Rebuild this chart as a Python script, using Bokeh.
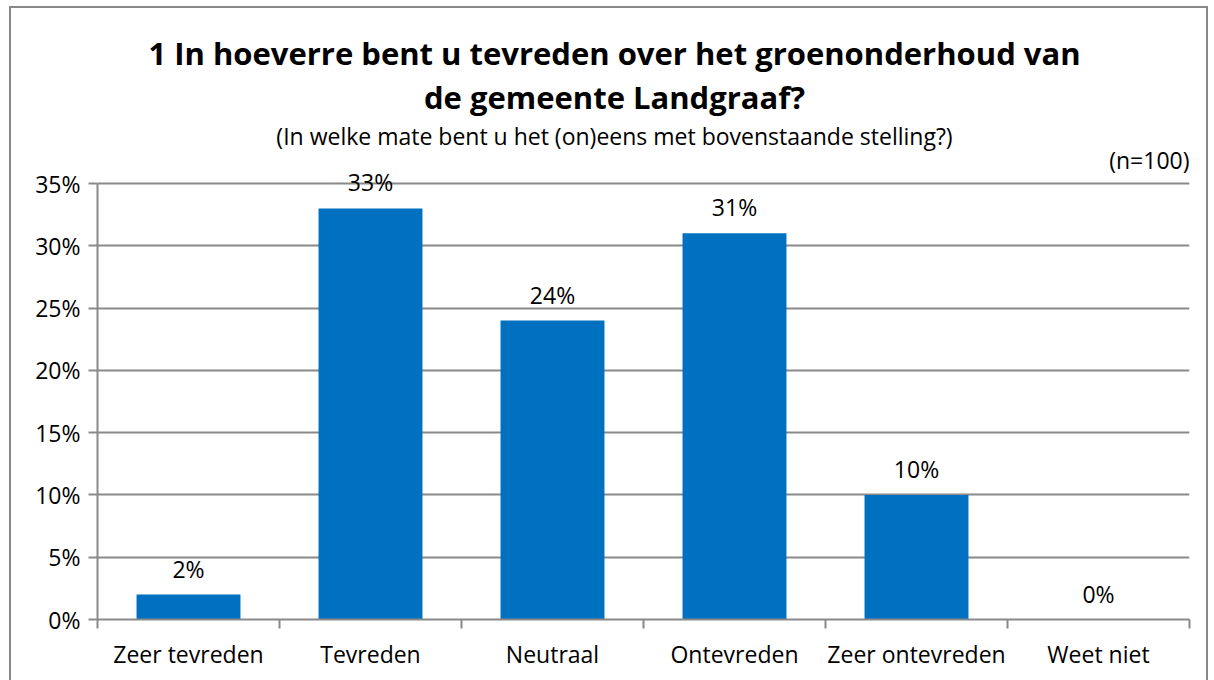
from bokeh.plotting import figure
from bokeh.models import (ColumnDataSource, FixedTicker, PrintfTickFormatter,
                          Range1d, LabelSet, Label)
from bokeh.core.properties import value
from bokeh.embed import file_html
from bokeh.resources import INLINE

categories = ["Zeer tevreden", "Tevreden", "Neutraal", "Ontevreden",
              "Zeer ontevreden", "Weet niet"]
values = [2, 33, 24, 31, 10, 0]
value_labels = ["2%", "33%", "24%", "31%", "10%", "0%"]
y_ticks = [0, 5, 10, 15, 20, 25, 30, 35]
title_line1 = "1 In hoeverre bent u tevreden over het groenonderhoud van"
title_line2 = "de gemeente Landgraaf?"
subtitle = "(In welke mate bent u het (on)eens met bovenstaande stelling?)"
n_note = "(n=100)"

FONT = "Open Sans"
GREY = "#898989"
BLUE = "#0070C0"
TXT = "23px"

xs = [i + 0.5 for i in range(len(categories))]
src = ColumnDataSource(dict(x=xs, top=values, lab=value_labels))

# frame: canvas x 97..1189, y 8..619 ; 35% gridline at canvas y 183
y_max = y_ticks[-1]
y_top = y_max * (619 - 8) / (619 - 183)

p = figure(width=1199, height=680, output_backend="svg", toolbar_location=None,
           x_range=Range1d(0, len(categories)), y_range=Range1d(0, y_top),
           min_border_left=86, min_border_right=21, min_border_top=0,
           min_border_bottom=69, outline_line_color=None)
p.styles = {"margin-left": "9px", "margin-top": "6px",
            "border": f"2px solid {GREY}"}
p.background_fill_color = "white"
p.border_fill_color = "white"

p.vbar(x="x", top="top", width=0.571, bottom=0, source=src,
       fill_color=BLUE, line_color=None)

# axes
p.xaxis.ticker = FixedTicker(ticks=xs, minor_ticks=list(range(len(categories) + 1)))
p.xaxis.major_label_overrides = {x: c for x, c in zip(xs, categories)}
p.xaxis.major_tick_line_color = None
p.xaxis.minor_tick_out = 9
p.xaxis.minor_tick_in = 0
p.xaxis.minor_tick_line_color = GREY
p.xaxis.minor_tick_line_width = 2
p.xaxis.axis_line_color = GREY
p.xaxis.axis_line_width = 2
p.xaxis.major_label_text_font = FONT
p.xaxis.major_label_text_font_size = TXT
p.xaxis.major_label_text_color = "black"
p.xaxis.major_label_standoff = 9

p.yaxis.ticker = FixedTicker(ticks=y_ticks, minor_ticks=[])
p.yaxis.bounds = (0, y_max)
p.yaxis.formatter = PrintfTickFormatter(format="%d%%")
p.yaxis.major_tick_out = 9
p.yaxis.major_tick_in = 0
p.yaxis.major_tick_line_color = GREY
p.yaxis.major_tick_line_width = 2
p.yaxis.axis_line_color = GREY
p.yaxis.axis_line_width = 2
p.yaxis.major_label_text_font = FONT
p.yaxis.major_label_text_font_size = TXT
p.yaxis.major_label_text_color = "black"
p.yaxis.major_label_standoff = 8

p.xgrid.grid_line_color = None
p.ygrid.ticker = FixedTicker(ticks=y_ticks)
p.ygrid.grid_line_color = GREY
p.ygrid.grid_line_width = 2

labels = LabelSet(x="x", y="top", text="lab", source=src, y_offset=17,
                  text_align="center", text_baseline="alphabetic",
                  text_font=value(FONT), text_font_size=value(TXT),
                  text_color="black")
p.add_layout(labels)

# titles (screen units relative to frame: x from left 97, y up from bottom 619)
def add_label(text, cx, cy_base, size, bold=False, align="center"):
    p.add_layout(Label(x=cx - 97, y=619 - cy_base, x_units="screen", y_units="screen",
                       text=text, text_font=FONT, text_font_size=size,
                       text_font_style="bold" if bold else "normal",
                       text_align=align, text_baseline="alphabetic",
                       text_color="black"))

add_label(title_line1, 614, 52, "31px", bold=True)
add_label(title_line2, 614, 96, "31px", bold=True)
add_label(subtitle, 614, 135, TXT)
add_label(n_note, 1189, 159, TXT, align="right")

open("out.html", "w").write(file_html(p, INLINE))
